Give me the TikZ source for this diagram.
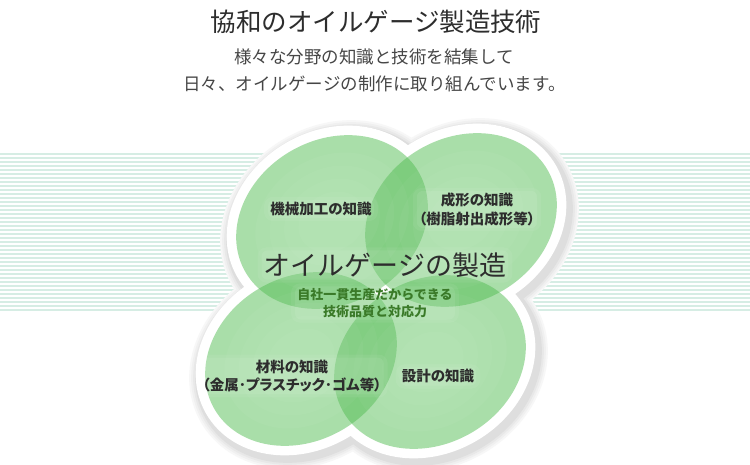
\documentclass[tikz,border=0pt]{standalone}
\usepackage{fontspec}
\newfontfamily\jp{Noto Sans CJK JP}
\newfontfamily\jpp[RawFeature=+palt]{Noto Sans CJK JP}
\usetikzlibrary{calc}
\pgfdeclarelayer{glowl}
\pgfdeclarelayer{textl}
\pgfsetlayers{main,glowl,textl}
\definecolor{stripec}{RGB}{214,237,228}
\definecolor{petal}{RGB}{85,190,85}
\definecolor{txt}{RGB}{45,45,45}
\definecolor{subtxt}{RGB}{70,70,70}
\definecolor{greentxt}{RGB}{58,122,40}
\newcommand\petaldata{332/222/100/82/30, 461/220/100/82/30, 430/362/100/82/30, 301/359/100/82/30}
\newcommand\glowlabel[4]{%
  \begin{pgfonlayer}{textl}\node[#3] (#1) at (#2) {#4};\end{pgfonlayer}
  \begin{pgfonlayer}{glowl}
    \fill[white, opacity=0.06, rounded corners=9pt] ($(#1.south west)+(-6,5)$) rectangle ($(#1.north east)+(6,-5)$);
    \fill[white, opacity=0.07, rounded corners=6pt] ($(#1.south west)+(-2,2)$) rectangle ($(#1.north east)+(2,-2)$);
  \end{pgfonlayer}}
\tikzset{
  lab/.style={font={\jpp\bfseries\fontsize{14.5}{18.5}\selectfont}, text=txt, align=center, inner sep=0pt},
  bigt/.style={font={\jp\fontsize{27}{30}\selectfont}, text=txt, inner sep=0pt},
  grn/.style={font={\jp\bfseries\fontsize{13}{16.5}\selectfont}, text=greentxt, align=center, inner sep=0pt},
  head/.style={font={\jp\fontsize{25.5}{28}\selectfont}, text=txt, inner sep=0pt},
  sub/.style={font={\jp\fontsize{17.5}{20}\selectfont}, text=subtxt, inner sep=0pt},
}
\begin{document}
\begin{tikzpicture}[x=1pt,y=-1pt]
\fill[white] (0,0) rectangle (750,465);
\useasboundingbox (0,0) rectangle (750,465);
\foreach \i in {0,...,39} \draw[stripec, line width=1.1pt] (0,{154+4*\i}) -- (750,{154+4*\i});
% shadow
\foreach \w/\g in {38/3, 34/6, 30/9, 26/13} {
  \foreach \cx/\cy/\a/\b/\r in \petaldata {
    \draw[black!\g, fill=black!\g, line width=\w pt, shift={(3,4)}, rotate around={\r:(\cx,\cy)}] (\cx,\cy) ellipse [x radius=\a, y radius=\b];
  }
}
% white halo
\foreach \cx/\cy/\a/\b/\r in \petaldata {
  \draw[white, fill=white, line width=19pt, rotate around={\r:(\cx,\cy)}] (\cx,\cy) ellipse [x radius=\a, y radius=\b];
}
% petals
\foreach \cx/\cy/\a/\b/\r in \petaldata {
  \fill[petal, fill opacity=0.5, rotate around={\r:(\cx,\cy)}] (\cx,\cy) ellipse [x radius=\a, y radius=\b];
}
% soft light centres of the petals
\foreach \cx/\cy/\a/\b/\r in \petaldata {
  \foreach \s in {0.8,0.65,0.5,0.35} {
    \fill[white, fill opacity=0.035, rotate around={\r:(\cx,\cy)}] (\cx,\cy) ellipse [x radius=\s*\a, y radius=\s*\b];
  }
}
\node[head] (title) at (376,22) {協和のオイルゲージ製造技術};
\node[sub] (sub1) at (374,56.5) {様々な分野の知識と技術を結集して};
\node[sub] (sub2) at (374.5,83.5) {日々、オイルゲージの制作に取り組んでいます。};
\glowlabel{l1}{321,209}{lab}{機械加工の知識}
\glowlabel{l2}{477,209.5}{lab}{成形の知識\\（樹脂射出成形等）}
\glowlabel{l3}{292,376}{lab}{材料の知識\\（金属･プラスチック･ゴム等）}
\glowlabel{l4}{438,376.5}{lab}{設計の知識}
\glowlabel{ctr}{385,265}{bigt}{オイルゲージの製造}
\glowlabel{g}{375,303}{grn}{自社一貫生産だからできる\\技術品質と対応力}
\end{tikzpicture}
\end{document}
